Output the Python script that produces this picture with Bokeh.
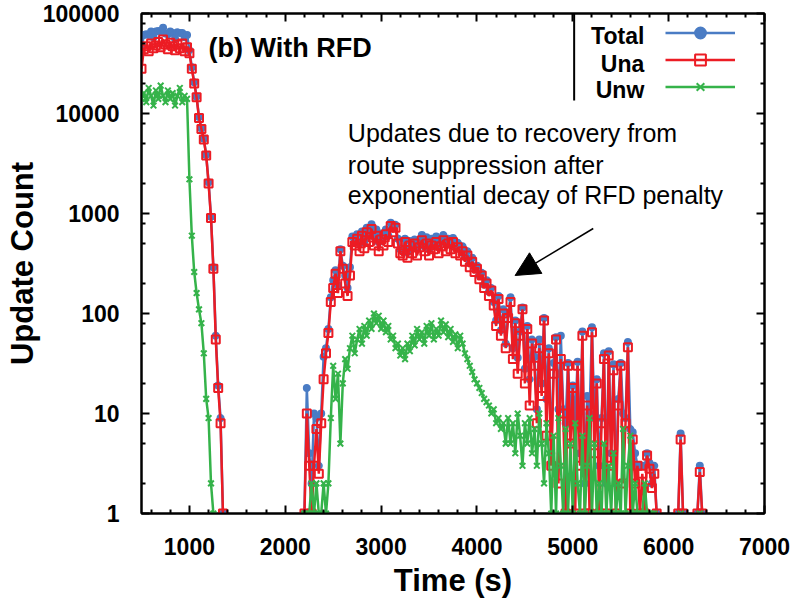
import math
from bokeh.plotting import figure
from bokeh.models import (Range1d, FixedTicker, PrintfTickFormatter, LinearAxis, LogAxis,
                          Label, Arrow, NormalHead, Legend, LegendItem, ColumnDataSource)
from bokeh.embed import file_html
from bokeh.resources import INLINE

nan = float("nan")

# ---------------- data ----------------
series_names = ["Total", "Una", "Unw"]

# first burst
time1 = [500, 525, 550, 575, 600, 625, 650, 675, 700, 725, 750, 775, 800, 825, 850,
         875, 900, 925, 950, 975, 1000, 1025, 1050, 1075, 1100, 1125, 1150, 1175,
         1200, 1225, 1250, 1275, 1300, 1325, 1350]
total1 = [45000, 61000, 62000, 61000, 66000, 58000, 66000, 67000, 66000, 72000, 63000,
          62000, 66000, 64000, 56000, 65000, 64000, 64000, 58000, 61000, 43000, 29000,
          20500, 14700, 9200, 7100, 5600, 3850, 2050, 930, 290, 60, 19, 9, 1]
una1 = [28000, 44000, 47000, 42000, 50000, 45000, 48000, 52000, 46000, 55000, 49000,
        44000, 51000, 47000, 43000, 49000, 45000, 50000, 42000, 46000, 40000, 28000,
        20000, 14500, 9000, 7000, 5500, 3800, 2000, 900, 280, 55, 18, 8, 1]
unw1 = [14000, 16000, 13000, 18000, 15000, 12000, 17000, 14000, 19000, 15000, 13000,
        17000, 14000, 16000, 12000, 15000, 18000, 13000, 15000, 14000, 2200, 600, 260,
        160, 110, 80, 40, 14, 9, 2, 1, nan, nan, nan, nan]

# second burst (recovery from route suppression)
time2 = [2200, 2225, 2250, 2275, 2300, 2325, 2350, 2375, 2400, 2425,
         2450, 2475, 2500, 2525, 2550, 2575, 2600, 2625, 2650, 2675,
         2700, 2725, 2750, 2775, 2800, 2825, 2850, 2875, 2900, 2925,
         2950, 2975, 3000, 3025, 3050, 3075, 3100, 3125, 3150, 3175,
         3200, 3225, 3250, 3275, 3300, 3325, 3350, 3375, 3400, 3425,
         3450, 3475, 3500, 3525, 3550, 3575, 3600, 3625, 3650, 3675,
         3700, 3725, 3750, 3775, 3800, 3825, 3850, 3875, 3900, 3925,
         3950, 3975, 4000, 4025, 4050, 4075, 4100, 4125, 4150, 4175,
         4200, 4225, 4250, 4275, 4300, 4325, 4350, 4375, 4400, 4425,
         4450, 4475, 4500, 4525, 4550, 4575, 4600, 4625, 4650, 4675,
         4700, 4725, 4750, 4775, 4800, 4825, 4850, 4875, 4900, 4925,
         4950, 4975, 5000, 5025, 5050, 5075, 5100, 5125, 5150, 5175,
         5200, 5225, 5250, 5275, 5300, 5325, 5350, 5375, 5400, 5425,
         5450, 5475, 5500, 5525, 5550, 5575, 5600, 5625, 5650, 5675,
         5700, 5725, 5750, 5775, 5800, 5825, 5850, 5875, 5900, 5925,
         5950, 5975, 6000, 6025, 6050, 6075, 6100, 6125, 6150, 6175,
         6200, 6225, 6250, 6275, 6300, 6325, 6350]
total2 = [1, 18, 4, 2, 10, 9, 3, 10, 37, 45,
          70, 145, 215, 270, 190, 440, 300, 240, 180, 290,
          590, 530, 620, 500, 660, 530, 720, 610, 780, 590,
          690, 520, 630, 570, 690, 600, 810, 720, 770, 560,
          440, 430, 560, 410, 530, 460, 550, 450, 520, 610,
          470, 580, 440, 560, 500, 590, 460, 560, 610, 500,
          560, 510, 570, 460, 510, 440, 470, 370, 420, 320,
          360, 285, 300, 240, 255, 195, 215, 165, 180, 130,
          85, 150, 68, 110, 50, 100, 145, 45, 85, 36,
          66, 115, 28, 75, 22, 55, 37, 11, 55, 20,
          90, 14, 45, 4, 32, 58, 11, 60, 11, 8,
          32, 10, 19, 9, 33, 4, 66, 2, 15, 10,
          73, 9, 22, 3, 9, 40, 2, 42, 4, 31,
          2, 14, 32, 10, 9, 52, 7, 6.5, 4, 3,
          3, 3, 3, 4, 3.2, 2, 3, 1, nan, nan,
          nan, nan, nan, nan, nan, nan, 1, 6.3, 1, nan,
          nan, nan, nan, nan, 1, 3, 1]
una2 = [1, 10, 3, 1, 3, 7, 2.5, 8, 22, 40,
        64, 130, 180, 250, 160, 420, 280, 200, 150, 240,
        520, 480, 560, 420, 600, 450, 650, 520, 700, 480,
        600, 420, 550, 480, 620, 520, 750, 650, 720, 500,
        400, 380, 520, 360, 480, 400, 500, 380, 460, 540,
        420, 500, 380, 480, 440, 520, 400, 470, 540, 420,
        500, 440, 520, 400, 460, 380, 420, 330, 380, 290,
        330, 260, 280, 220, 240, 180, 200, 150, 170, 120,
        75, 140, 60, 100, 45, 90, 130, 35, 80, 25,
        60, 110, 20, 70, 12, 50, 30, 8, 45, 15,
        85, 6, 40, 3, 25, 55, 2, 35, 10, 1,
        30, 5, 18, 1, 30, 3, 60, 1, 12, 1,
        65, 4, 20, 1, 8, 35, 1, 38, 3, 27,
        1, 12, 30, 2, 8, 46, 1, 5.5, 2, 3,
        1, 2.5, 1, 3.8, 2.8, 1.8, 2.5, 1, nan, nan,
        nan, nan, nan, nan, nan, nan, 1, 5.5, 1, nan,
        nan, nan, nan, nan, 1, 2.6, 1]
unw2 = [1, 1, 1, 2, 1, 2, 1, 1, 2, 1,
        2, 9, 30, 14, 25, 5, 20, 35, 28, 45,
        60, 40, 55, 70, 50, 75, 60, 85, 70, 100,
        80, 95, 70, 85, 65, 75, 55, 60, 45, 50,
        38, 45, 35, 50, 42, 60, 48, 70, 55, 65,
        50, 75, 60, 80, 55, 70, 60, 85, 65, 78,
        58, 70, 52, 62, 45, 60, 50, 40, 35, 30,
        26, 22, 20, 18, 16, 14, 13, 12, 10, 11,
        8, 9, 7, 8, 5, 9, 5, 8, 4, 10,
        6, 3, 8, 5, 9, 4, 7, 3, 10, 5,
        2, 8, 4, 1, 6, 1, 9, 3, 1, 7,
        1, 5, 1, 8, 2, 1, 6, 1, 3, 9,
        1, 5, 1, 2, 1, 5, 1, 3, 1, 4,
        1, 2, 1, 7, 1, 3, 6, 1, 2, 1,
        1, 1, 2, 1, 1, 1, 1, nan, nan, nan,
        nan, nan, nan, nan, nan, nan, nan, 1, nan, nan,
        nan, nan, nan, nan, nan, 1, nan]

x_major = [1000, 2000, 3000, 4000, 5000, 6000, 7000]
y_major = [1, 10, 100, 1000, 10000, 100000]

# ---------------- styles ----------------
BLUE = "#4a7cc4"
RED = "#ec1c24"
GREEN = "#35b34a"
FONT = "Liberation Sans"

p = figure(width=795, height=609, output_backend="svg", toolbar_location=None,
           x_range=Range1d(500, 7000), y_range=Range1d(1, 100000), y_axis_type="log",
           min_border_left=141, min_border_right=31, min_border_top=13, min_border_bottom=96)
p.grid.visible = False
p.outline_line_color = "black"
p.outline_line_width = 2
p.background_fill_color = "white"
p.border_fill_color = "white"

x_minor = [t for t in range(600, 7000, 200) if t % 1000 != 0]
y_minor = [m * 10 ** k for k in range(5) for m in (2, 5, 8)]
xt = FixedTicker(ticks=x_major, minor_ticks=x_minor)
yt = FixedTicker(ticks=y_major, minor_ticks=y_minor)

def style_axis(ax, ticker, show_labels, standoff):
    ax.ticker = ticker
    ax.axis_line_width = 2
    ax.axis_line_color = "black"
    ax.major_tick_in = 8
    ax.major_tick_out = 0
    ax.minor_tick_in = 4
    ax.minor_tick_out = 0
    ax.major_tick_line_width = 2
    ax.minor_tick_line_width = 2
    ax.major_tick_line_color = "black"
    ax.minor_tick_line_color = "black"
    if show_labels:
        ax.formatter = PrintfTickFormatter(format="%d")
        ax.major_label_text_font = FONT
        ax.major_label_text_font_style = "bold"
        ax.major_label_text_font_size = "23px"
        ax.major_label_text_color = "black"
        ax.major_label_standoff = standoff
        ax.axis_label_text_font = FONT
        ax.axis_label_text_font_style = "bold"
        ax.axis_label_text_font_size = "31px"
        ax.axis_label_text_color = "black"
    else:
        ax.major_label_overrides = {t: "" for t in ticker.ticks}
        ax.major_label_text_font_size = "1px"
        ax.major_label_standoff = 0

style_axis(p.xaxis[0], xt, True, 24)
style_axis(p.yaxis[0], yt, True, 22)
p.xaxis[0].axis_label = "Time (s)"
p.xaxis[0].axis_label_standoff = 5
p.yaxis[0].axis_label = "Update Count"
p.yaxis[0].axis_label_standoff = 0

top_axis = LinearAxis()
style_axis(top_axis, xt, False, 0)
p.add_layout(top_axis, "above")
right_axis = LogAxis()
style_axis(right_axis, yt, False, 0)
p.add_layout(right_axis, "right")

src1 = ColumnDataSource(dict(t=time1, total=total1, una=una1, unw=unw1))
src2 = ColumnDataSource(dict(t=time2, total=total2, una=una2, unw=unw2))

legend_renderers = {}
for col, color, marker, msize, fill in [("total", BLUE, "circle", 6, BLUE),
                                        ("una", RED, "square", 8, None),
                                        ("unw", GREEN, "x", 8, GREEN)]:
    rs = []
    for src in (src1, src2):
        l = p.line("t", col, source=src, line_color=color, line_width=2.5)
        s = p.scatter("t", col, source=src, marker=marker, size=msize,
                      line_color=color, fill_color=fill, line_width=2)
        rs.append((l, s))
    legend_renderers[col] = rs[0]

# legend samples (gnuplot style: text right-aligned, sample to its right)
items = [LegendItem(label=" ", renderers=list(legend_renderers[c]))
         for c in ("total", "una", "unw")]
leg = Legend(items=items, location=(524, 413), orientation="vertical",
             glyph_width=70, glyph_height=27, label_height=27, label_width=0,
             label_standoff=0, spacing=0, padding=0, margin=0,
             label_text_font_size="1px", border_line_color=None,
             background_fill_alpha=0)
p.add_layout(leg)

legend_text_y = [58900, 31600, 17000]
for name, yy in zip(series_names, legend_text_y):
    p.add_layout(Label(x=5746, y=yy, text=name, text_align="right", text_baseline="middle",
                       text_font=FONT, text_font_style="bold", text_font_size="23px",
                       text_color="black"))
# key box left edge
p.segment(x0=[5014], y0=[13500], x1=[5014], y1=[100000], line_color="black", line_width=2)

# panel title
p.add_layout(Label(x=1200, y=45700, text="(b) With RFD", text_align="left",
                   text_baseline="middle", text_font=FONT, text_font_style="bold",
                   text_font_size="27px", text_color="black"))

# annotation text
ann_lines = ["Updates due to recovery from", "route suppression after",
             "exponential decay of RFD penalty"]
ann_y = [6310, 3090, 1514]
for txt, yy in zip(ann_lines, ann_y):
    p.add_layout(Label(x=2653, y=yy, text=txt, text_align="left", text_baseline="middle",
                       text_font=FONT, text_font_size="25px", text_color="black"))
p.add_layout(Arrow(x_start=5213, y_start=708, x_end=4398, y_end=240, line_width=1.5,
                   line_color="black",
                   end=NormalHead(size=24, fill_color="black", line_color="black")))

open("out.html", "w").write(file_html(p, INLINE))
